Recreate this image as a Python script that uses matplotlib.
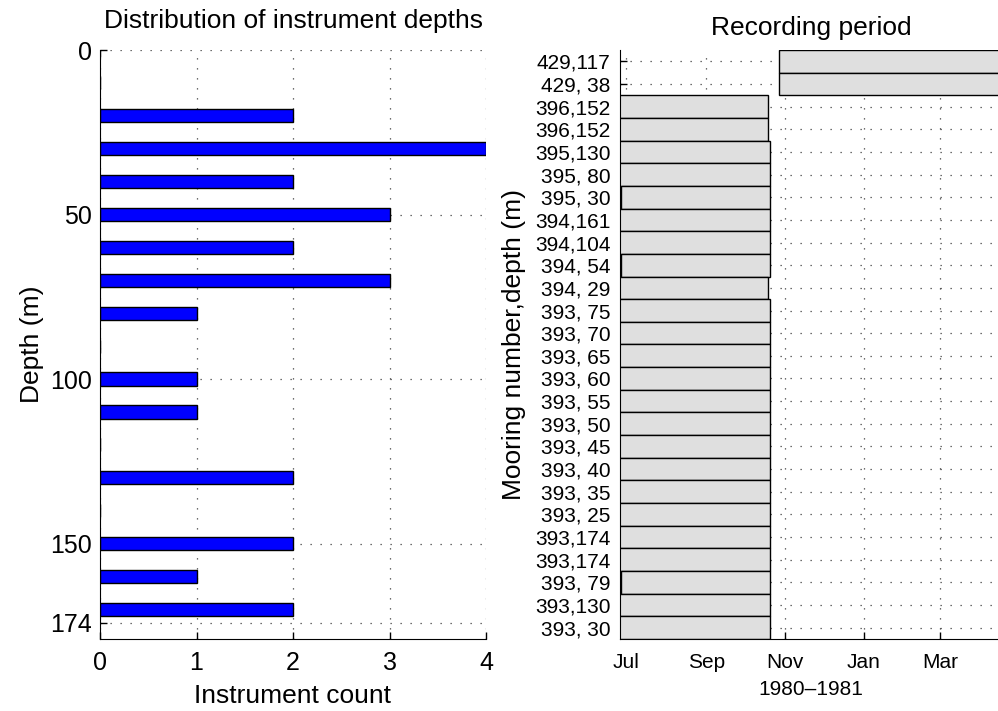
# Instrument depths histogram and recording periods per mooring
import datetime as dt
import matplotlib
matplotlib.use('Agg')
from matplotlib import pyplot as plt
import matplotlib.dates as mdates

plt.rcParams['font.family'] = ['Liberation Sans', 'DejaVu Sans']

# Histogram of depths (bin centres in m, instrument counts):
depth_bins = [0, 10, 20, 30, 40, 50, 60, 70, 80, 90, 100, 110, 120, 130, 140, 150, 160, 170]
depth_counts = [0, 0, 2, 4, 2, 3, 2, 3, 1, 0, 1, 1, 0, 2, 0, 2, 1, 2]
depth_ticks = [0, 50, 100, 150, 174]

# Recording periods (top row first):
mooring_labels = ['429,117', '429, 38', '396,152', '396,152', '395,130', '395, 80',
                  '395, 30', '394,161', '394,104', '394, 54', '394, 29', '393, 75',
                  '393, 70', '393, 65', '393, 60', '393, 55', '393, 50', '393, 45',
                  '393, 40', '393, 35', '393, 25', '393,174', '393,174', '393, 79',
                  '393,130', '393, 30']
start_dates = ['1980-10-27', '1980-10-27', '1980-06-24', '1980-06-24', '1980-06-24',
               '1980-06-24', '1980-06-27', '1980-06-24', '1980-06-24', '1980-06-27',
               '1980-06-24', '1980-06-24', '1980-06-24', '1980-06-24', '1980-06-24',
               '1980-06-24', '1980-06-24', '1980-06-24', '1980-06-24', '1980-06-24',
               '1980-06-24', '1980-06-24', '1980-06-24', '1980-06-27', '1980-06-24',
               '1980-06-24']
end_dates = ['1981-05-15', '1981-05-15', '1980-10-19', '1980-10-19', '1980-10-20',
             '1980-10-20', '1980-10-20', '1980-10-20', '1980-10-20', '1980-10-20',
             '1980-10-19', '1980-10-20', '1980-10-20', '1980-10-20', '1980-10-20',
             '1980-10-20', '1980-10-20', '1980-10-20', '1980-10-20', '1980-10-20',
             '1980-10-20', '1980-10-20', '1980-10-20', '1980-10-20', '1980-10-20',
             '1980-10-20']
month_ticks = ['1980-07-01', '1980-09-01', '1980-11-01', '1981-01-01', '1981-03-01']
time_limits = ['1980-06-26', '1981-04-18']


def to_num(s):
    return mdates.date2num(dt.datetime.strptime(s, '%Y-%m-%d'))


grid_style = dict(linestyle=(0, (1, 7)), color='0.25', linewidth=0.9)

fig = plt.figure(figsize=(9.98, 7.11), dpi=100)
ax1 = fig.add_axes([100 / 998, 72 / 711, 386 / 998, 589 / 711])
ax2 = fig.add_axes([620 / 998, 72 / 711, 382 / 998, 589 / 711])

# Left panel: histogram
ax1.barh(depth_bins, depth_counts, height=4, color='blue', edgecolor='black', linewidth=1)
ax1.set_xlim(0, 4)
ax1.set_ylim(179, 0)
ax1.set_xticks([0, 1, 2, 3, 4])
ax1.set_yticks(depth_ticks)
ax1.set_axisbelow(True)
ax1.grid(True, **grid_style)
ax1.tick_params(direction='in', length=5, labelsize=18, width=1)
ax1.tick_params(axis='x', pad=9)
ax1.tick_params(axis='y', pad=6)
ax1.set_title('Distribution of instrument depths', fontsize=19, pad=16)
ax1.set_xlabel('Instrument count', fontsize=19, labelpad=6)
ax1.set_ylabel('Depth (m)', fontsize=19)
ax1.yaxis.set_label_coords(-0.145, 0.5)
for side in ['top', 'right']:
    ax1.spines[side].set_visible(False)

# Right panel: recording periods
rows = list(range(len(mooring_labels)))
starts = [to_num(s) for s in start_dates]
ends = [to_num(s) for s in end_dates]
widths = [e - s for s, e in zip(starts, ends)]
ax2.barh(rows, widths, left=starts, height=1, color='#dfdfdf', edgecolor='black', linewidth=1)
ax2.set_ylim(len(rows) - 0.5, -0.5)
ax2.set_xlim(to_num(time_limits[0]), to_num(time_limits[1]))
ax2.set_yticks(rows)
ax2.set_yticklabels(mooring_labels)
ax2.set_xticks([to_num(s) for s in month_ticks])
ax2.xaxis.set_major_formatter(mdates.DateFormatter('%b'))
ax2.set_axisbelow(True)
ax2.grid(True, **grid_style)
ax2.tick_params(direction='in', length=5, labelsize=15, width=1)
ax2.tick_params(axis='x', pad=10)
ax2.tick_params(axis='y', pad=7)
ax2.set_title('Recording period', fontsize=19, pad=11)
ax2.set_xlabel('1980\u20131981', fontsize=15, labelpad=6)
ax2.set_ylabel('Mooring number,depth (m)', fontsize=19)
ax2.yaxis.set_label_coords(-0.245, 0.5)
for side in ['top', 'right']:
    ax2.spines[side].set_visible(False)

plt.savefig('out.png', dpi=100)
